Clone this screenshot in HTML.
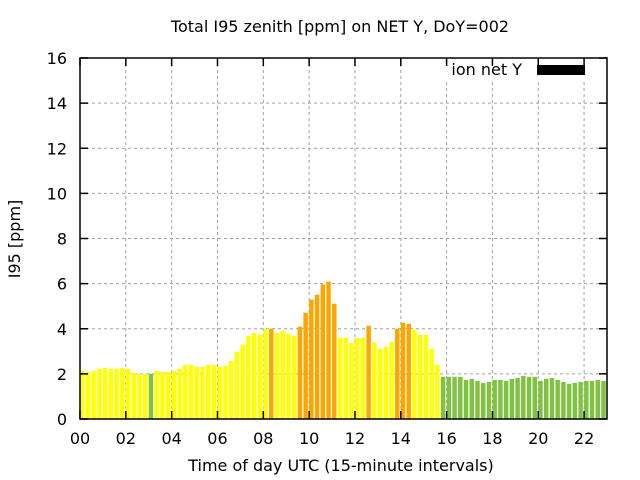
<!DOCTYPE html>
<html><head><meta charset="utf-8">
<style>
html,body{margin:0;padding:0;background:#fff;}
svg{display:block;font-family:"DejaVu Sans","Liberation Sans",sans-serif;}
</style></head>
<body>
<svg id="chart" width="640" height="480" viewBox="0 0 640 480">
  <text x="340" y="32" font-size="16" text-anchor="middle">Total I95 zenith [ppm] on NET Y, DoY=002</text>
  <g id="grid"></g>
  <rect x="444" y="59" width="162" height="22" fill="#fff"/>
  <g id="bars"></g>
  <rect x="80" y="58" width="527" height="361" fill="none" stroke="#000" stroke-width="1.5"/>
  <g id="ticks"></g>
  <text x="20" y="239" font-size="16" text-anchor="middle" transform="rotate(-90 20 239)">I95 [ppm]</text>
  <text x="341" y="471" font-size="16" text-anchor="middle">Time of day UTC (15-minute intervals)</text>
  <g>
    <text x="522" y="75" font-size="16" text-anchor="end">ion net Y</text>
    <rect x="537" y="65" width="48" height="10" fill="#000"/>
  </g>
</svg>
<script>
const values = [2.13,2.09,2.13,2.22,2.27,2.22,2.22,2.27,2.22,2.04,2.0,2.0,2.0,2.13,2.09,2.09,2.13,2.22,2.4,2.4,2.31,2.31,2.4,2.4,2.31,2.36,2.58,2.98,3.29,3.69,3.82,3.73,
4.0,4.0,3.82,3.91,3.78,3.69,4.09,4.71,5.29,5.51,5.96,6.09,5.11,3.6,3.6,3.38,3.6,3.6,4.13,3.38,3.11,3.2,3.42,4.0,4.27,4.22,3.96,3.73,3.73,3.11,2.4,
1.87,1.87,1.87,1.87,1.73,1.78,1.69,1.6,1.64,1.73,1.73,1.69,1.78,1.82,1.91,1.87,1.87,1.69,1.78,1.82,1.73,1.64,1.56,1.6,1.64,1.69,1.69,1.73,1.69];
const greenSlots = [12];
const orangeSlots = [33,38,39,40,41,42,43,44,50,55,56,57];
const yTicks = [0,2,4,6,8,10,12,14,16];
const xTickHours = [0,2,4,6,8,10,12,14,16,18,20,22];
const xTickLabels = ["00","02","04","06","08","10","12","14","16","18","20","22"];

const NS="http://www.w3.org/2000/svg";
const X0=80,X1=607,Y0=419,Y1=58, XMAX=23, YMAX=16;
const xs = h => X0 + h/XMAX*(X1-X0);
const ys = v => Y0 - v/YMAX*(Y0-Y1);
function mk(tag, attrs){const e=document.createElementNS(NS,tag);for(const k in attrs)e.setAttribute(k,attrs[k]);return e;}
const grid=document.getElementById('grid'), bars=document.getElementById('bars'), ticks=document.getElementById('ticks');
function colorOf(i){
  if (greenSlots.includes(i) || i>=63) return '#80c242';
  if (orangeSlots.includes(i)) return '#ffa500';
  return '#ffff00';
}
yTicks.forEach(v=>{
  const y=ys(v);
  if(v>0 && v<YMAX){const g=mk('line',{x1:X0,x2:X1,y1:y,y2:y,stroke:'#a0a0a0','stroke-dasharray':'3,3','stroke-width':1});
  
  
  grid.appendChild(g);}
  ticks.appendChild(mk('line',{x1:X0,x2:X0+8,y1:y,y2:y,stroke:'#000','stroke-width':1.5}));
  ticks.appendChild(mk('line',{x1:X1-8,x2:X1,y1:y,y2:y,stroke:'#000','stroke-width':1.5}));
  const tx=mk('text',{x:X0-13,y:y+6,'font-size':16,'text-anchor':'end'});
  tx.textContent=v;
  
  
  ticks.appendChild(tx);
});
xTickHours.forEach((h,k)=>{
  const x=xs(h);
  if(h>0){const g=mk('line',{x1:x,x2:x,y1:Y1,y2:Y0,stroke:'#a0a0a0','stroke-dasharray':'3,3','stroke-width':1});
  
  
  grid.appendChild(g);}
  ticks.appendChild(mk('line',{x1:x,x2:x,y1:Y0-8,y2:Y0,stroke:'#000','stroke-width':1.5}));
  ticks.appendChild(mk('line',{x1:x,x2:x,y1:Y1,y2:Y1+8,stroke:'#000','stroke-width':1.5}));
  const tx=mk('text',{x:x,y:Y0+25,'font-size':16,'text-anchor':'middle'});
  tx.textContent=xTickLabels[k];
  
  
  ticks.appendChild(tx);
});
values.forEach((v,i)=>{
  const xl=xs(i*0.25), w=(xs(0.25)-xs(0))*0.78;
  const r=mk('rect',{x:xl,y:ys(v),width:w,height:Y0-ys(v),fill:colorOf(i)});
  
  
  bars.appendChild(r);
});
</script>
</body></html>
